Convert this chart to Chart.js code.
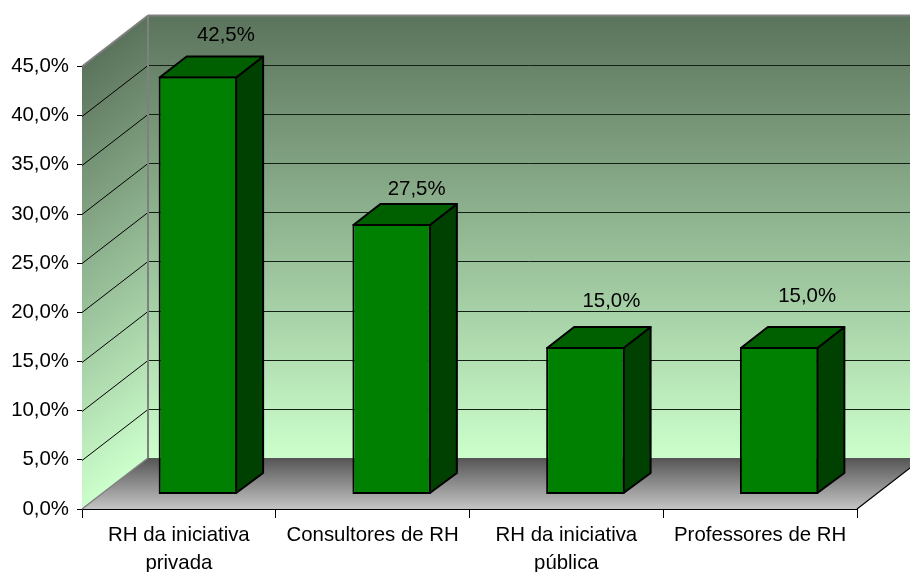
<!DOCTYPE html>
<html>
<head>
<meta charset="utf-8">
<style>
    html, body { margin: 0; padding: 0; background: #ffffff; }
    canvas { display: block; }
</style>
<script src="https://cdn.jsdelivr.net/npm/chart.js@4"></script>
</head>
<body>
<canvas id="chart" width="910" height="572"></canvas>
<script>
const categories = [['RH da iniciativa', 'privada'], 'Consultores de RH', ['RH da iniciativa', 'pública'], 'Professores de RH'];
const shares = [42.5, 27.5, 15.0, 15.0];
const valueLabels = ['42,5%', '27,5%', '15,0%', '15,0%'];
const yMax = 45;
const yStep = 5;

// Excel style fake 3D
const WALL_DX = 66, WALL_DY = -51;
const BAR_SHIFT_X = 19, BAR_SHIFT_Y = -14.5;
const BAR_DX = 27, BAR_DY = -21;
const labelLift = [20, 14, 25, 30];
const labelNudge = [1, -2, -1, 1];
const FONT = '"Liberation Sans", Arial, sans-serif';
const FONT_SIZE = 20.4;

function shearedGradientFill(ctx, x, y, w, h, slope, stops) {
    ctx.save();
    ctx.transform(1, slope, 0, 1, x, y);
    const g = ctx.createLinearGradient(0, 0, 0, h);
    stops.forEach(([at, color]) => g.addColorStop(at, color));
    ctx.fillStyle = g;
    ctx.fillRect(0, 0, w, h);
    ctx.restore();
}

function line(ctx, x1, y1, x2, y2) {
    ctx.beginPath();
    ctx.moveTo(x1, y1);
    ctx.lineTo(x2, y2);
    ctx.stroke();
}

function poly(ctx, pts) {
    ctx.beginPath();
    pts.forEach(([x, y], i) => (i ? ctx.lineTo(x, y) : ctx.moveTo(x, y)));
    ctx.closePath();
    ctx.fill();
    ctx.stroke();
}

const wallStops = [[0, '#5b735c'], [1, '#ccffcc']];

const walls3d = {
    id: 'walls3d',
    beforeDatasetsDraw(chart) {
        const { ctx, chartArea: a, scales: { y } } = chart;
        const bx = a.left + WALL_DX;
        const right = a.right + WALL_DX;
        const h = a.bottom - a.top;

        // side wall, back wall
        shearedGradientFill(ctx, a.left, a.top, WALL_DX, h, WALL_DY / WALL_DX, wallStops);
        shearedGradientFill(ctx, bx, a.top + WALL_DY, right - bx, h, 0, wallStops);

        // floor
        const fg = ctx.createLinearGradient(0, a.bottom + WALL_DY, 0, a.bottom);
        fg.addColorStop(0, '#555555');
        fg.addColorStop(1, '#c4c4c4');
        ctx.save();
        ctx.fillStyle = fg;
        ctx.beginPath();
        ctx.moveTo(a.left, a.bottom);
        ctx.lineTo(bx, a.bottom + WALL_DY);
        ctx.lineTo(right, a.bottom + WALL_DY);
        ctx.lineTo(a.right, a.bottom);
        ctx.closePath();
        ctx.fill();

        // grid lines run along the side wall and across the back
        ctx.lineWidth = 1;
        y.ticks.forEach(t => {
            const py = Math.round(y.getPixelForValue(t.value)) + 0.5;
            if (t.value > 0 && t.value < yMax) {
                ctx.strokeStyle = '#000000';
                line(ctx, a.left, py, bx, py + WALL_DY);
                ctx.strokeStyle = '#141f14';
                line(ctx, bx, py + WALL_DY, right, py + WALL_DY);
            }
        });

        // wall edges
        ctx.strokeStyle = '#808080';
        ctx.lineWidth = 2;
        line(ctx, bx, a.top + WALL_DY, bx, a.bottom + WALL_DY);
        line(ctx, bx, a.top + WALL_DY, right, a.top + WALL_DY);
        line(ctx, a.left, a.top, bx, a.top + WALL_DY);
        ctx.lineWidth = 1.5;
        line(ctx, a.left, a.bottom, bx, a.bottom + WALL_DY);
        ctx.strokeStyle = '#000000';
        ctx.lineWidth = 1.2;
        line(ctx, a.right, a.bottom, right, a.bottom + WALL_DY);
        ctx.restore();

        // side and top faces of the bars
        const meta = chart.getDatasetMeta(0);
        ctx.save();
        ctx.translate(BAR_SHIFT_X, BAR_SHIFT_Y);
        ctx.strokeStyle = '#000000';
        ctx.lineWidth = 2;
        ctx.lineJoin = 'round';
        meta.data.forEach(bar => {
            const l = bar.x - bar.width / 2, r = bar.x + bar.width / 2 - 1;
            ctx.fillStyle = '#004000';
            poly(ctx, [[r, bar.y + 1], [r + BAR_DX, bar.y + BAR_DY + 1], [r + BAR_DX, bar.base + BAR_DY], [r, bar.base - 1]]);
            ctx.fillStyle = '#006000';
            poly(ctx, [[l + 1, bar.y + 1], [l + 1 + BAR_DX, bar.y + BAR_DY + 1], [r + BAR_DX, bar.y + BAR_DY + 1], [r, bar.y + 1]]);
        });
        ctx.restore();

        // front faces get shifted the same way
        ctx.save();
        ctx.translate(BAR_SHIFT_X, BAR_SHIFT_Y);
    },
    afterDatasetsDraw(chart) {
        const { ctx } = chart;
        ctx.restore();

        // value labels
        const meta = chart.getDatasetMeta(0);
        ctx.save();
        ctx.font = FONT_SIZE + 'px ' + FONT;
        ctx.fillStyle = '#000000';
        ctx.textAlign = 'center';
        ctx.textBaseline = 'middle';
        meta.data.forEach((bar, i) => {
            const lx = bar.x + BAR_SHIFT_X + BAR_DX + labelNudge[i];
            const ly = bar.y + BAR_SHIFT_Y + BAR_DY - labelLift[i];
            ctx.fillText(valueLabels[i], lx, ly);
        });
        ctx.restore();
    }
};

new Chart(document.getElementById('chart'), {
    type: 'bar',
    data: {
        labels: categories,
        datasets: [{
            data: shares,
            backgroundColor: '#008000',
            borderColor: '#000000',
            borderWidth: 2,
            borderSkipped: false,
            barPercentage: 0.405,
            categoryPercentage: 1,
            clip: false
        }]
    },
    options: {
        responsive: false,
        animation: false,
        layout: { padding: { top: 66.5, right: 53, left: 0, bottom: 0 } },
        plugins: {
            legend: { display: false },
            tooltip: { enabled: false }
        },
        scales: {
            x: {
                afterFit: scale => { scale.height = 63; },
                border: { color: '#000000', width: 1 },
                grid: { drawOnChartArea: false, color: '#000000', tickLength: 9 },
                ticks: {
                    color: '#000000',
                    padding: 3,
                    maxRotation: 0,
                    autoSkip: false,
                    font: { family: FONT, size: FONT_SIZE, lineHeight: 1.37 }
                }
            },
            y: {
                min: 0,
                max: yMax,
                afterFit: scale => { scale.width = 82; },
                border: { color: '#000000', width: 1 },
                grid: { drawOnChartArea: false, color: '#000000', tickLength: 5 },
                ticks: {
                    stepSize: yStep,
                    color: '#000000',
                    padding: 8,
                    font: { family: FONT, size: FONT_SIZE },
                    callback: v => v.toFixed(1).replace('.', ',') + '%'
                }
            }
        }
    },
    plugins: [walls3d]
});
</script>
</body>
</html>
